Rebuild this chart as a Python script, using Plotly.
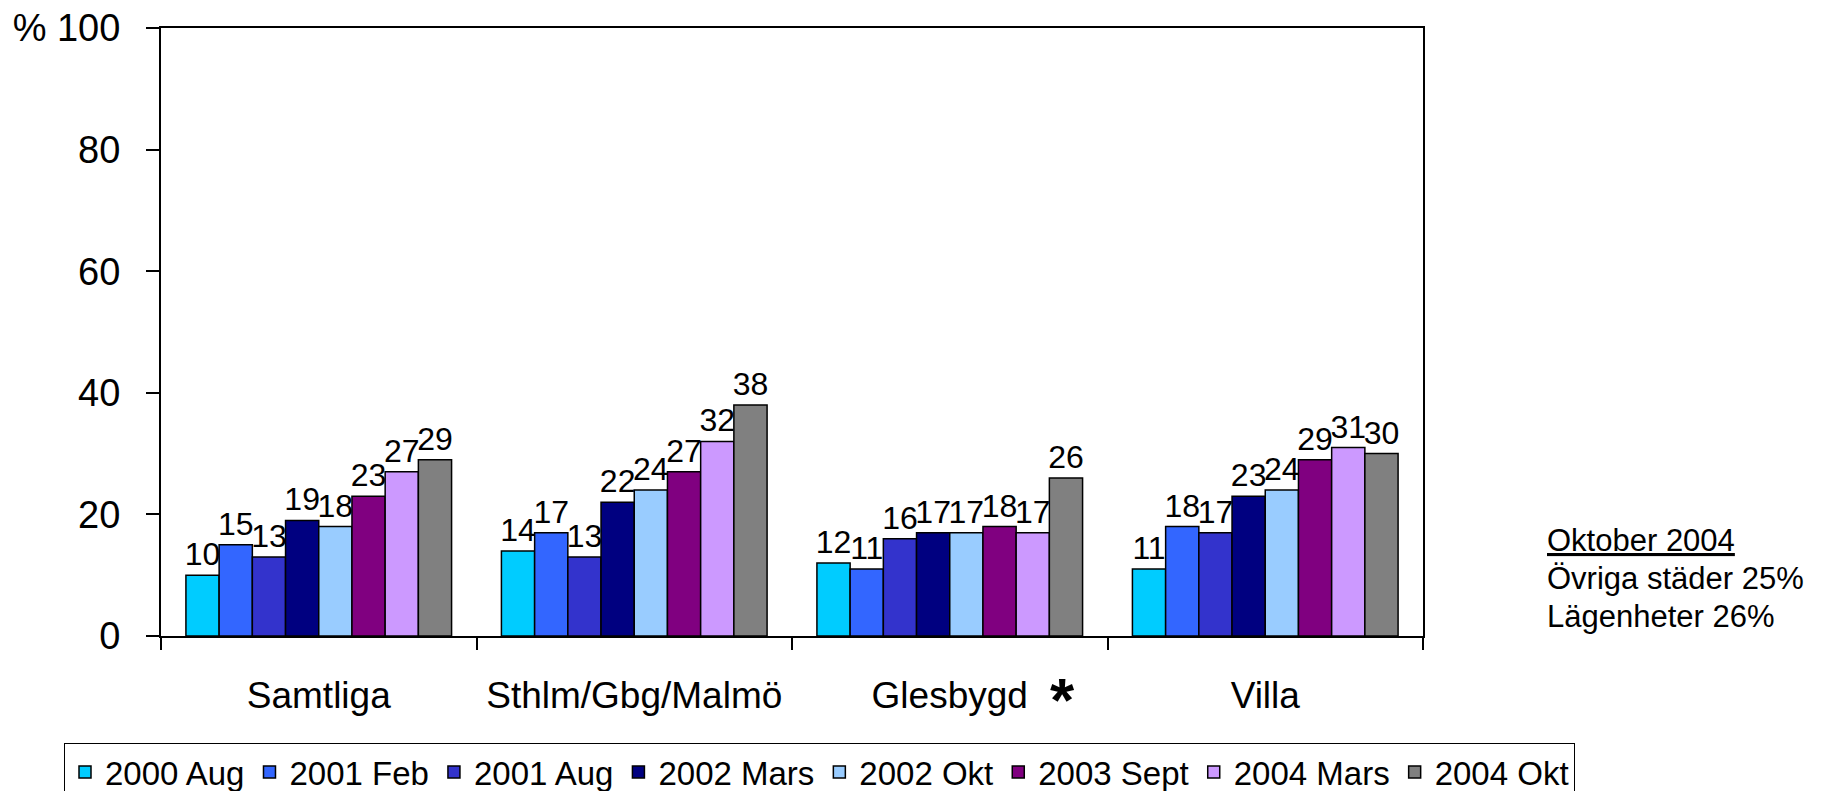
import plotly.graph_objects as go

categories = ["Samtliga", "Sthlm/Gbg/Malmö", "Glesbygd", "Villa"]
series_names = ["2000 Aug", "2001 Feb", "2001 Aug", "2002 Mars",
                "2002 Okt", "2003 Sept", "2004 Mars", "2004 Okt"]
s_2000_aug = [10, 14, 12, 11]
s_2001_feb = [15, 17, 11, 18]
s_2001_aug = [13, 13, 16, 17]
s_2002_mars = [19, 22, 17, 23]
s_2002_okt = [18, 24, 17, 24]
s_2003_sept = [23, 27, 18, 29]
s_2004_mars = [27, 32, 17, 31]
s_2004_okt = [29, 38, 26, 30]
series_values = [s_2000_aug, s_2001_feb, s_2001_aug, s_2002_mars,
                 s_2002_okt, s_2003_sept, s_2004_mars, s_2004_okt]
colors = ["#00CCFF", "#3366FF", "#3333CC", "#000080",
          "#99CCFF", "#800080", "#CC99FF", "#808080"]
y_tickvals = [0, 20, 40, 60, 80, 100]
y_ticktext = ["0", "20", "40", "60", "80", "% 100"]
note_lines = ["<u>Oktober 2004</u>", "Övriga städer 25%", "Lägenheter 26%"]

FONT = "Arial, Liberation Sans, sans-serif"

# plot area in figure pixels
FW, FH = 1827, 791
L, R, T, B = 153, 1415, 20, 628
W, H = R - L, B - T


def px(x):
    return (x - L) / W


def py(y):
    return (B - y) / H


fig = go.Figure()
for name, vals, col in zip(series_names, series_values, colors):
    fig.add_trace(go.Bar(
        x=categories, y=vals, name=name,
        marker=dict(color=col, line=dict(color="black", width=1.5)),
        text=vals, textposition="outside", constraintext="none",
        textfont=dict(family=FONT, size=32, color="black"),
        cliponaxis=False,
    ))

fig.update_layout(
    width=FW, height=FH,
    margin=dict(l=L, r=FW - R, t=T, b=FH - B, autoexpand=False),
    paper_bgcolor="white", plot_bgcolor="white",
    barmode="group", bargap=0.158, bargroupgap=0,
    font=dict(family=FONT, color="black"),
    showlegend=True,
    legend=dict(
        orientation="h", x=px(1567), y=py(735),
        xanchor="right", yanchor="top",
        font=dict(family=FONT, size=33, color="black"),
        bordercolor="black", borderwidth=1, bgcolor="white",
        itemwidth=30, tracegroupgap=0,
    ),
    xaxis=dict(
        showline=True, linecolor="black", linewidth=2, mirror=True,
        ticks="outside", ticklen=12, tickwidth=2, tickcolor="black",
        tickson="boundaries", showgrid=False,
        tickfont=dict(family=FONT, size=37, color="black"),
        ticklabelstandoff=26,
    ),
    yaxis=dict(
        range=[0, 100], tickvals=y_tickvals, ticktext=y_ticktext,
        showline=True, linecolor="black", linewidth=2, mirror=True,
        ticks="outside", ticklen=13, tickwidth=2, tickcolor="black",
        showgrid=False, zeroline=False,
        tickfont=dict(family=FONT, size=38, color="black"),
        ticklabelstandoff=18, ticklabeloverflow="allow",
    ),
)

# asterisk next to Glesbygd
fig.add_annotation(xref="paper", yref="paper", x=px(1054), y=py(692),
                   text="<b>*</b>", showarrow=False, xanchor="center", yanchor="middle",
                   font=dict(family=FONT, size=62, color="black"))

# note text on the right
note_y = [532, 570, 608]
for txt, yy in zip(note_lines, note_y):
    fig.add_annotation(xref="paper", yref="paper", x=px(1537), y=py(yy),
                       text=txt, showarrow=False, xanchor="left", yanchor="middle",
                       font=dict(family=FONT, size=31, color="black"))

fig.write_html("out.html")
